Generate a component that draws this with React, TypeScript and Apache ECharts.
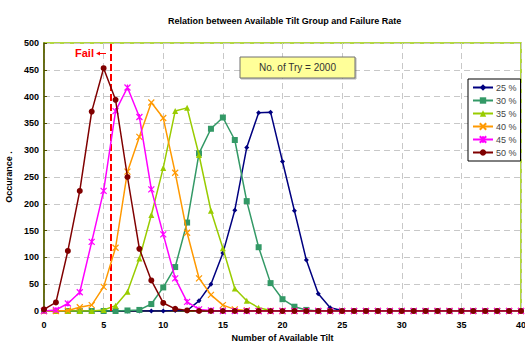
import React, { useEffect, useRef } from "react";
import * as echarts from "echarts";

const xValues: number[] = Array.from({ length: 41 }, (_, i) => i);
const seriesNames = ["25 %", "30 %", "35 %", "40 %", "45 %", "50 %"];
const s25 = [0,0,0,0,0,0,0,0,0,0,0,1,1,19,50,108,188,305,370,371,279,187,95,32,6,1,0,0,0,0,0,0,0,0,0,0,0,0,0,0,0];
const s30 = [0,0,0,0,0,0,0,1,2,13,44,82,165,294,340,361,319,205,119,52,22,8,2,0,0,0,0,0,0,0,0,0,0,0,0,0,0,0,0,0,0];
const s35 = [0,0,0,0,0,2,10,36,98,179,267,373,379,291,187,117,42,19,6,1,0,0,0,0,0,0,0,0,0,0,0,0,0,0,0,0,0,0,0,0,0];
const s40 = [0,0,1,7,11,45,118,260,325,389,360,258,146,61,30,11,3,1,0,0,0,0,0,0,0,0,0,0,0,0,0,0,0,0,0,0,0,0,0,0,0];
const s45 = [0,2,14,35,129,224,373,417,362,227,143,61,17,3,1,0,0,0,0,0,0,0,0,0,0,0,0,0,0,0,0,0,0,0,0,0,0,0,0,0,0];
const s50 = [3,16,112,224,372,453,394,250,116,57,15,4,1,0,0,0,0,0,0,0,0,0,0,0,0,0,0,0,0,0,0,0,0,0,0,0,0,0,0,0,0];
const failX = 5.6;
const colors = ["#000080", "#339966", "#99CC00", "#FF9900", "#FF00FF", "#800000"];
const symbols = [
  "diamond",
  "rect",
  "triangle",
  "path://M0,0L10,10M10,0L0,10",
  "path://M0,0L10,10M10,0L0,10M5,0L5,10",
  "circle",
];
const symbolSizes = [5, 6, 6, 6, 6, 6];

export default function App() {
  const ref = useRef<HTMLDivElement>(null);
  useEffect(() => {
    const chart = echarts.init(ref.current!, null, { renderer: "svg" });
    const all = [s25, s30, s35, s40, s45, s50];
    const series: any[] = all.map((vals, i) => ({
      name: seriesNames[i],
      type: "line",
      data: xValues.map((x, j) => [x, vals[j]]),
      symbol: symbols[i],
      symbolSize: symbolSizes[i],
      showAllSymbol: true,
      lineStyle: { color: colors[i], width: 1.5 },
      itemStyle: {
        color: colors[i],
        borderColor: colors[i],
        borderWidth: i === 3 || i === 4 ? 1.2 : 0,
      },
      z: 2 + i,
    }));
    series[5].markLine = {
      silent: true,
      symbol: "none",
      label: { show: false },
      lineStyle: { color: "#FF0000", type: [7, 3], width: 2 },
      data: [{ xAxis: failX }],
    };
    const font = "Liberation Sans, Arial, sans-serif";
    chart.setOption({
      animation: false,
      backgroundColor: "#ffffff",
      textStyle: { fontFamily: font },
      title: {
        text: "Relation between Available Tilt Group and Failure Rate",
        left: 163,
        top: 11,
        textStyle: { fontSize: 9, fontWeight: "bold", color: "#000", fontFamily: font },
      },
      grid: {
        left: 44,
        right: 4,
        top: 43,
        bottom: 32,
        containLabel: false,
        outerBoundsMode: "none",
        show: true,
        borderColor: "#99CC00",
        borderWidth: 1.5,
        backgroundColor: "#ffffff",
      },
      legend: {
        orient: "vertical",
        left: 468,
        top: 79,
        width: 48,
        padding: [4, 4, 4, 4],
        itemGap: 4,
        itemWidth: 20,
        itemHeight: 8,
        borderColor: "#000",
        borderWidth: 1,
        backgroundColor: "#fff",
        textStyle: { fontSize: 9, color: "#444", fontFamily: font, padding: [0, 0, 0, -2] },
        data: seriesNames,
      },
      xAxis: {
        type: "value",
        min: 0,
        max: 40,
        interval: 5,
        name: "Number of Available Tilt",
        nameLocation: "middle",
        nameGap: 21,
        nameTextStyle: { fontSize: 9, fontWeight: "bold", color: "#000" },
        axisLine: { lineStyle: { color: "#333300", width: 1.5 } },
        axisTick: { show: false },
        axisLabel: { fontSize: 9, fontWeight: "bold", color: "#000", margin: 9 },
        splitLine: { show: true, lineStyle: { color: "#c8c8c8", type: [6, 4], width: 1 } },
      },
      yAxis: {
        type: "value",
        min: 0,
        max: 500,
        interval: 50,
        name: "Occurance .",
        nameLocation: "middle",
        nameGap: 25,
        nameTextStyle: { fontSize: 9, fontWeight: "bold", color: "#000" },
        axisLine: { show: true, lineStyle: { color: "#4d4d00", width: 1.5 } },
        axisTick: { show: true, inside: true, length: 3, lineStyle: { color: "#4d4d00" } },
        axisLabel: { fontSize: 9, fontWeight: "bold", color: "#000", margin: 5 },
        splitLine: { show: true, lineStyle: { color: "#c8c8c8", type: [6, 4], width: 1 } },
      },
      graphic: [
        {
          type: "text",
          left: 75,
          top: 47,
          style: { text: "Fail", fill: "#FF0000", font: "bold 11px " + font },
          z: 100,
        },
        {
          type: "line",
          shape: { x1: 99, y1: 53.5, x2: 106, y2: 53.5 },
          style: { stroke: "#FF0000", lineWidth: 1 },
          z: 100,
        },
        {
          type: "polygon",
          shape: { points: [[96, 53.5], [100, 51.5], [100, 55.5]] },
          style: { fill: "#FF0000" },
          z: 100,
        },
        {
          type: "rect",
          shape: { x: 240, y: 57, width: 115, height: 21 },
          style: { fill: "#FFFF99", stroke: "#707070", lineWidth: 1, shadowColor: "rgba(0,0,0,0.3)", shadowOffsetX: 1, shadowOffsetY: 1 },
          z: 100,
        },
        {
          type: "text",
          x: 297.5,
          y: 67.5,
          style: {
            text: "No. of Try = 2000",
            fill: "#333",
            font: "10px " + font,
            align: "center",
            verticalAlign: "middle",
          },
          z: 101,
        },
      ],
      series,
    });
    return () => chart.dispose();
  }, []);
  return (
    <div
      ref={ref}
      style={{ position: "fixed", left: 0, top: 0, width: 525, height: 343 }}
    />
  );
}
